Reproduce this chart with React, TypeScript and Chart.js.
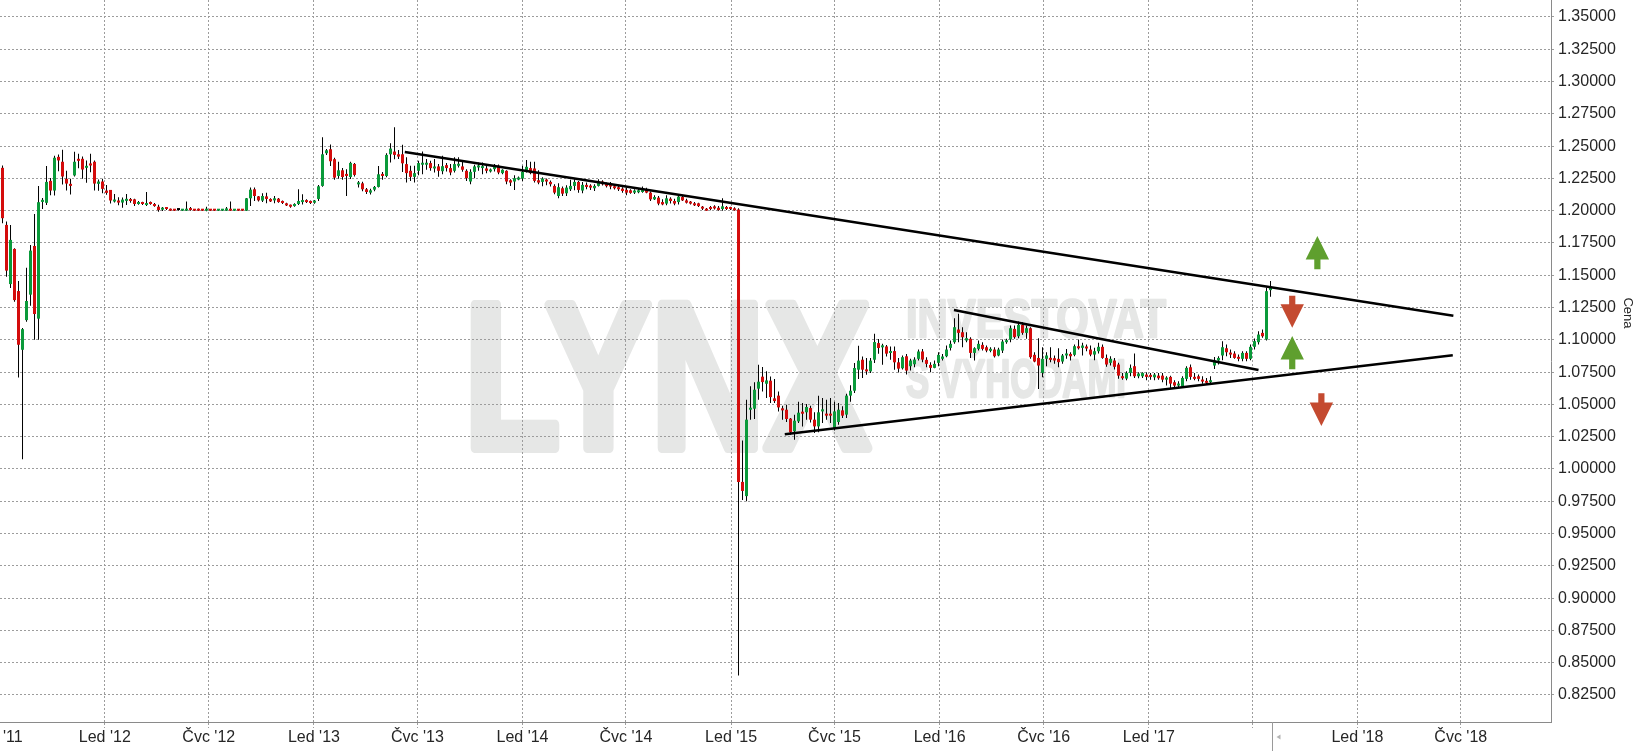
import React, { useEffect, useRef } from 'react';
import { Chart, registerables } from 'chart.js';

Chart.register(...registerables);

// ---------- DATA ----------
// weekly candles, first week starting Monday 2011-06-27
const FIRST_WEEK = '2011-06-27';

const opens = [
  1.181, 1.2332, 1.189, 1.1432, 1.1704, 1.1378, 1.0923, 1.1153, 1.135, 1.1727,
  1.1164, 1.2068, 1.2061, 1.2231, 1.2156, 1.2417, 1.2379, 1.2247, 1.2208, 1.2273,
  1.2402, 1.2402, 1.2332, 1.2366, 1.2379, 1.2208, 1.2226, 1.2156, 1.2161, 1.2071,
  1.2079, 1.2063, 1.2076, 1.2088, 1.2088, 1.2052, 1.2065, 1.2044, 1.2065, 1.2052,
  1.2031, 1.2008, 1.2023, 1.2013, 1.201, 1.2005, 1.2, 1.2, 1.2018, 1.201,
  1.2013, 1.201, 1.2, 1.201, 1.201, 1.2, 1.2, 1.2, 1.201, 1.2,
  1.201, 1.201, 1.2, 1.2096, 1.2166, 1.2111, 1.2078, 1.2111, 1.2091, 1.208,
  1.2093, 1.2075, 1.2057, 1.2044, 1.2036, 1.2052, 1.2067, 1.208, 1.2075, 1.2062,
  1.2091, 1.2192, 1.2445, 1.2476, 1.2399, 1.2269, 1.2313, 1.2285, 1.2261, 1.2362,
  1.2204, 1.2212, 1.2166, 1.214, 1.2163, 1.2184, 1.2285, 1.2269, 1.2437, 1.2458,
  1.2437, 1.2437, 1.2361, 1.2309, 1.2262, 1.2309, 1.2356, 1.2356, 1.2369, 1.2327,
  1.2343, 1.2306, 1.2353, 1.233, 1.2309, 1.2348, 1.2343, 1.2309, 1.2226, 1.2301,
  1.2335, 1.233, 1.2327, 1.2304, 1.2322, 1.2348, 1.2291, 1.2309, 1.2236, 1.2226,
  1.2241, 1.2249, 1.2301, 1.233, 1.2327, 1.2236, 1.2223, 1.2239, 1.2223, 1.2192,
  1.2114, 1.2174, 1.2135, 1.2166, 1.2192, 1.2223, 1.2156, 1.22, 1.2192, 1.2174,
  1.2192, 1.2226, 1.2208, 1.2205, 1.2187, 1.2182, 1.2171, 1.2161, 1.2158, 1.214,
  1.2143, 1.2145, 1.2161, 1.214, 1.2088, 1.2101, 1.2067, 1.2055, 1.2093, 1.2075,
  1.2067, 1.2106, 1.208, 1.207, 1.2057, 1.2057, 1.2031, 1.2013, 1.2026, 1.2031,
  1.2023, 1.2013, 1.2029, 1.2026, 1.2018, 1.201, 0.99, 0.979, 1.0459, 1.0467,
  1.0622, 1.0715, 1.066, 1.0684, 1.0547, 1.0568, 1.047, 1.0459, 1.039, 1.0292,
  1.0369, 1.0444, 1.0439, 1.0472, 1.0382, 1.033, 1.0446, 1.0428, 1.0428, 1.0317,
  1.0364, 1.0454, 1.0421, 1.0568, 1.0606, 1.0769, 1.0846, 1.0769, 1.0756, 1.0846,
  1.0975, 1.0942, 1.0949, 1.0898, 1.0913, 1.0826, 1.078, 1.0873, 1.0796, 1.0811,
  1.0853, 1.091, 1.0845, 1.0806, 1.0783, 1.0822, 1.0853, 1.0873, 1.0938, 1.0982,
  1.108, 1.1059, 1.0995, 1.1008, 1.0899, 1.093, 1.0961, 1.0943, 1.0915, 1.0925,
  1.0879, 1.0917, 1.0982, 1.1003, 1.1085, 1.1028, 1.1116, 1.1054, 1.109, 1.0884,
  1.086, 1.0744, 1.0853, 1.0858, 1.0858, 1.0853, 1.0832, 1.0879, 1.0891, 1.0884,
  1.0948, 1.0938, 1.0946, 1.0925, 1.0886, 1.0912, 1.0946, 1.086, 1.0822, 1.084,
  1.0809, 1.0718, 1.07, 1.0744, 1.0796, 1.0718, 1.0718, 1.0731, 1.0729, 1.071,
  1.0723, 1.0723, 1.0692, 1.0713, 1.0672, 1.0646, 1.0641, 1.0698, 1.0788, 1.0713,
  1.0718, 1.0692, 1.0679, 1.0672, 1.0801, 1.084, 1.0879, 1.0935, 1.0899, 1.0894,
  1.0868, 1.0853, 1.0899, 1.0853, 1.0946, 1.0982, 1.1054, 1.1003, 1.1385,
];

const highs = [
  1.235, 1.235, 1.1916, 1.189, 1.1709, 1.1456, 1.1091, 1.1559, 1.1735, 1.1975,
  1.2192, 1.2099, 1.2347, 1.2254, 1.2425, 1.2435, 1.2472, 1.2309, 1.2247, 1.2456,
  1.2441, 1.242, 1.2389, 1.2441, 1.2389, 1.2241, 1.2247, 1.22, 1.2161, 1.213,
  1.2104, 1.2102, 1.213, 1.2098, 1.2093, 1.2075, 1.207, 1.2145, 1.2072, 1.206,
  1.2047, 1.2028, 1.2028, 1.2018, 1.2013, 1.201, 1.2013, 1.2072, 1.2028, 1.2013,
  1.2018, 1.2013, 1.2031, 1.2013, 1.2013, 1.2013, 1.2013, 1.2028, 1.2072, 1.2013,
  1.2013, 1.2013, 1.2099, 1.2179, 1.2179, 1.2114, 1.2135, 1.214, 1.2096, 1.2114,
  1.2099, 1.208, 1.2062, 1.2049, 1.2057, 1.2166, 1.2127, 1.2088, 1.208, 1.2083,
  1.2199, 1.2569, 1.2478, 1.2512, 1.241, 1.238, 1.233, 1.2321, 1.238, 1.237,
  1.223, 1.2225, 1.2175, 1.217, 1.2192, 1.2347, 1.23, 1.2445, 1.2523, 1.2647,
  1.247, 1.251, 1.2413, 1.2348, 1.2348, 1.2387, 1.2459, 1.24, 1.2387, 1.24,
  1.2361, 1.2426, 1.2369, 1.2361, 1.2413, 1.2413, 1.2382, 1.2322, 1.2322, 1.2356,
  1.2374, 1.2374, 1.2348, 1.2327, 1.2361, 1.2358, 1.2322, 1.2314, 1.2244, 1.2275,
  1.2265, 1.2348, 1.2392, 1.2379, 1.2379, 1.2314, 1.226, 1.2249, 1.2234, 1.2205,
  1.2213, 1.2187, 1.2197, 1.2239, 1.2244, 1.2231, 1.2223, 1.2218, 1.2205, 1.2205,
  1.2244, 1.2236, 1.2218, 1.2223, 1.22, 1.2192, 1.2182, 1.2177, 1.2166, 1.2166,
  1.2171, 1.2187, 1.2177, 1.2148, 1.2119, 1.2114, 1.2088, 1.2119, 1.2104, 1.2093,
  1.2127, 1.2122, 1.2093, 1.2075, 1.2067, 1.2062, 1.2036, 1.2021, 1.2036, 1.2042,
  1.2036, 1.2096, 1.2036, 1.2031, 1.2026, 1.202, 1.022, 1.0537, 1.064, 1.0671,
  1.0808, 1.0789, 1.0756, 1.0717, 1.0697, 1.0601, 1.049, 1.0498, 1.0395, 1.0421,
  1.0521, 1.0511, 1.0503, 1.049, 1.0439, 1.0568, 1.055, 1.0537, 1.055, 1.0521,
  1.0511, 1.0485, 1.0583, 1.0648, 1.082, 1.0955, 1.0872, 1.0859, 1.0859, 1.1047,
  1.1006, 1.097, 1.096, 1.0949, 1.0949, 1.0859, 1.0879, 1.0891, 1.0853, 1.0866,
  1.0925, 1.093, 1.0866, 1.0827, 1.084, 1.0904, 1.0891, 1.0956, 1.0995, 1.1168,
  1.1202, 1.1098, 1.1059, 1.1021, 1.0943, 1.0995, 1.0982, 1.0956, 1.0943, 1.0943,
  1.0938, 1.1003, 1.1008, 1.1111, 1.1111, 1.1142, 1.1137, 1.1111, 1.1098, 1.0904,
  1.1013, 1.0943, 1.0904, 1.0943, 1.0879, 1.0935, 1.0891, 1.093, 1.0904, 1.0964,
  1.1003, 1.0977, 1.0964, 1.0956, 1.0938, 1.0977, 1.0964, 1.0886, 1.0873, 1.086,
  1.0822, 1.0744, 1.0757, 1.0809, 1.0894, 1.0749, 1.0749, 1.0749, 1.0744, 1.0744,
  1.0744, 1.0744, 1.0718, 1.0723, 1.0687, 1.0679, 1.0718, 1.0796, 1.0809, 1.0744,
  1.0731, 1.0718, 1.0705, 1.0718, 1.0868, 1.0873, 1.099, 1.0964, 1.0925, 1.0912,
  1.0886, 1.0912, 1.0912, 1.0964, 1.101, 1.1067, 1.108, 1.1403, 1.1455,
];

const lows = [
  1.178, 1.1903, 1.1489, 1.1401, 1.1295, 1.0709, 1.0075, 1.114, 1.1264, 1.1001,
  1.1001, 1.2014, 1.2045, 1.212, 1.2117, 1.2306, 1.2203, 1.2156, 1.2125, 1.2265,
  1.2329, 1.2247, 1.2216, 1.2298, 1.2156, 1.2154, 1.2136, 1.2123, 1.2055, 1.2063,
  1.2042, 1.2022, 1.2045, 1.2062, 1.2036, 1.2047, 1.2044, 1.2036, 1.2047, 1.2031,
  1.1992, 1.1998, 1.2005, 1.1998, 1.1998, 1.2, 1.1998, 1.1998, 1.2, 1.1998,
  1.1998, 1.1998, 1.1995, 1.1998, 1.1998, 1.1998, 1.1998, 1.1998, 1.1998, 1.1998,
  1.1998, 1.1998, 1.1998, 1.2036, 1.2075, 1.2072, 1.2067, 1.2057, 1.2067, 1.2057,
  1.2062, 1.2052, 1.2036, 1.2023, 1.2031, 1.2044, 1.2049, 1.206, 1.2052, 1.2054,
  1.2075, 1.2186, 1.2432, 1.2347, 1.224, 1.2248, 1.224, 1.2114, 1.2245, 1.2264,
  1.218, 1.215, 1.213, 1.2125, 1.215, 1.2179, 1.224, 1.226, 1.2373, 1.2398,
  1.24, 1.23, 1.2218, 1.2231, 1.2218, 1.2275, 1.2283, 1.2317, 1.2309, 1.2296,
  1.2262, 1.2283, 1.2304, 1.2275, 1.2296, 1.2335, 1.2301, 1.2231, 1.2205, 1.2252,
  1.2309, 1.2283, 1.2291, 1.2296, 1.2304, 1.2283, 1.2283, 1.2205, 1.2192, 1.2161,
  1.2236, 1.2231, 1.2296, 1.2283, 1.2218, 1.2205, 1.219, 1.2197, 1.2187, 1.2127,
  1.2096, 1.2114, 1.2114, 1.2153, 1.2158, 1.214, 1.2135, 1.2166, 1.2161, 1.2153,
  1.2187, 1.2195, 1.2179, 1.2166, 1.2164, 1.2153, 1.214, 1.2119, 1.2132, 1.213,
  1.2135, 1.214, 1.2135, 1.2075, 1.2083, 1.2042, 1.2042, 1.2042, 1.2055, 1.2042,
  1.2049, 1.2075, 1.2055, 1.2049, 1.2036, 1.2029, 1.2005, 1.2, 1.2003, 1.201,
  1.2, 1.2, 1.2005, 1.2005, 1.2, 0.84, 0.976, 0.975, 1.0382, 1.0387,
  1.0537, 1.0601, 1.055, 1.0511, 1.0511, 1.0446, 1.0382, 1.0364, 1.0266, 1.0227,
  1.0356, 1.033, 1.0382, 1.0361, 1.0279, 1.0284, 1.0356, 1.0382, 1.0356, 1.0299,
  1.0343, 1.0395, 1.0395, 1.0521, 1.0588, 1.0697, 1.0704, 1.073, 1.0743, 1.082,
  1.0893, 1.0808, 1.0872, 1.0846, 1.0769, 1.0748, 1.077, 1.0731, 1.0762, 1.0788,
  1.084, 1.0827, 1.0788, 1.0749, 1.078, 1.0796, 1.084, 1.0866, 1.0917, 1.0969,
  1.0982, 1.0943, 1.0982, 1.086, 1.084, 1.0917, 1.0917, 1.0904, 1.0904, 1.0863,
  1.0873, 1.0899, 1.0969, 1.0982, 1.1008, 1.1013, 1.1039, 1.1008, 1.0853, 1.0827,
  1.062, 1.071, 1.0796, 1.0827, 1.0814, 1.0788, 1.0814, 1.0853, 1.084, 1.0873,
  1.0925, 1.0879, 1.0912, 1.0873, 1.0842, 1.0894, 1.0853, 1.0791, 1.0801, 1.077,
  1.0698, 1.0692, 1.0687, 1.0718, 1.0705, 1.0703, 1.0705, 1.0687, 1.0692, 1.0687,
  1.0692, 1.0672, 1.0646, 1.0628, 1.062, 1.0628, 1.0628, 1.0679, 1.0692, 1.0687,
  1.0679, 1.0661, 1.0654, 1.0654, 1.0775, 1.0809, 1.0842, 1.0873, 1.086, 1.0853,
  1.0835, 1.0835, 1.0835, 1.0842, 1.0925, 1.0964, 1.1016, 1.0995, 1.1333,
];

const closes = [
  1.232, 1.1942, 1.1536, 1.1774, 1.1308, 1.0962, 1.1083, 1.1301, 1.1691, 1.12,
  1.2066, 1.2084, 1.2223, 1.2156, 1.241, 1.2389, 1.2265, 1.221, 1.2192, 1.2379,
  1.2386, 1.2319, 1.2347, 1.235, 1.221, 1.2226, 1.2169, 1.2138, 1.2079, 1.2086,
  1.2063, 1.2086, 1.2092, 1.2075, 1.2052, 1.2065, 1.2052, 1.2057, 1.2052, 1.2036,
  1.2005, 1.2021, 1.2013, 1.2, 1.2, 1.2005, 1.201, 1.201, 1.2005, 1.2,
  1.2, 1.2, 1.201, 1.2, 1.2, 1.201, 1.201, 1.2018, 1.2, 1.201,
  1.2, 1.2, 1.2096, 1.2163, 1.2114, 1.208, 1.2114, 1.2091, 1.2072, 1.2096,
  1.2067, 1.206, 1.2041, 1.2031, 1.2052, 1.2075, 1.208, 1.2067, 1.206, 1.2078,
  1.2189, 1.2437, 1.2468, 1.2383, 1.2256, 1.2313, 1.2261, 1.2269, 1.237, 1.2277,
  1.2215, 1.2166, 1.2145, 1.2158, 1.2184, 1.2282, 1.2269, 1.2432, 1.2481, 1.2432,
  1.2419, 1.2367, 1.2291, 1.2262, 1.2291, 1.2369, 1.2369, 1.2369, 1.233, 1.234,
  1.2309, 1.2345, 1.233, 1.2296, 1.2361, 1.2361, 1.2317, 1.2252, 1.2301, 1.2343,
  1.2348, 1.234, 1.2309, 1.2317, 1.2348, 1.2296, 1.2317, 1.2226, 1.2218, 1.2252,
  1.2257, 1.2301, 1.234, 1.2291, 1.2231, 1.2218, 1.2249, 1.2226, 1.2205, 1.214,
  1.2182, 1.2132, 1.2179, 1.2192, 1.2223, 1.2161, 1.22, 1.2184, 1.2179, 1.2192,
  1.2226, 1.2205, 1.219, 1.2187, 1.2174, 1.2166, 1.2153, 1.214, 1.2138, 1.2156,
  1.2158, 1.2161, 1.214, 1.2088, 1.2106, 1.2055, 1.2049, 1.2096, 1.2075, 1.2055,
  1.2109, 1.208, 1.2062, 1.2055, 1.2042, 1.2036, 1.2016, 1.2, 1.2013, 1.2018,
  1.2005, 1.2034, 1.2013, 1.2013, 1.2003, 0.99, 0.983, 1.0382, 1.0472, 1.0614,
  1.0676, 1.0673, 1.0686, 1.0557, 1.0526, 1.0477, 1.0454, 1.0387, 1.0284, 1.0374,
  1.0436, 1.0428, 1.048, 1.0382, 1.033, 1.0439, 1.0462, 1.0413, 1.0413, 1.0446,
  1.0459, 1.0413, 1.0568, 1.0606, 1.0782, 1.0839, 1.0769, 1.0756, 1.0839, 1.0983,
  1.0937, 1.0957, 1.0893, 1.0913, 1.0826, 1.0777, 1.0866, 1.0762, 1.084, 1.0847,
  1.091, 1.0847, 1.0814, 1.0783, 1.0814, 1.0884, 1.0871, 1.0925, 1.0969, 1.1098,
  1.1054, 1.1021, 1.1013, 1.0899, 1.0935, 1.0969, 1.093, 1.0917, 1.093, 1.0873,
  1.0925, 1.0987, 1.0995, 1.109, 1.1021, 1.1116, 1.1054, 1.109, 1.0866, 1.0832,
  1.0801, 1.0853, 1.0879, 1.0845, 1.084, 1.0827, 1.0879, 1.0891, 1.0873, 1.0951,
  1.0935, 1.0956, 1.0933, 1.0886, 1.0912, 1.0946, 1.086, 1.0809, 1.0853, 1.0791,
  1.0723, 1.0703, 1.0744, 1.0783, 1.0718, 1.0739, 1.0744, 1.0713, 1.0713, 1.0731,
  1.0703, 1.0692, 1.0705, 1.0661, 1.0646, 1.0661, 1.0705, 1.0783, 1.0713, 1.0698,
  1.0698, 1.0677, 1.0667, 1.0687, 1.084, 1.086, 1.0943, 1.0904, 1.0886, 1.086,
  1.0853, 1.0899, 1.0853, 1.0946, 1.099, 1.1041, 1.1028, 1.1377, 1.1403,
];

const xTickDates = [
  '2011-06-26', '2012-01-01', '2012-07-01', '2013-01-01', '2013-07-01', '2014-01-01', '2014-07-01',
  '2015-01-01', '2015-07-01', '2016-01-01', '2016-07-01', '2017-01-01', '2017-07-01', '2018-01-01', '2018-07-01',
];
const xTickLabels = [
  "Čvc '11", "Led '12", "Čvc '12", "Led '13", "Čvc '13", "Led '14", "Čvc '14",
  "Led '15", "Čvc '15", "Led '16", "Čvc '16", "Led '17", '', "Led '18", "Čvc '18",
];
const yTicks = [
  0.825, 0.85, 0.875, 0.9, 0.925, 0.95, 0.975, 1.0, 1.025, 1.05, 1.075, 1.1,
  1.125, 1.15, 1.175, 1.2, 1.225, 1.25, 1.275, 1.3, 1.325, 1.35,
];

// trend lines: start date, start value, end date, end value
const trendStartDates = ['2013-06-09', '2015-04-05', '2016-01-26'];
const trendStartValues = [1.2455, 1.0269, 1.1231];
const trendEndDates = ['2018-06-18', '2018-06-17', '2017-07-12'];
const trendEndValues = [1.1187, 1.0881, 1.0767];

// scenario arrows: date, base value, tip value
const arrowDates = ['2017-10-23', '2017-09-09', '2017-09-09', '2017-10-30'];
const arrowBaseValues = [1.1547, 1.1342, 1.0772, 1.0586];
const arrowTipValues = [1.1804, 1.1094, 1.103, 1.0333];

const LAST_DATA_DATE = '2017-08-04';
const AXIS_TITLE = 'Cena';

// ---------- HELPERS / STYLE ----------
const FONT = '"Liberation Sans", Arial, Helvetica, sans-serif';
const GREEN = '#0a9a3a';
const RED = '#d40c0c';
const GRID = '#9c9c9c';
const AXIS = '#8a8a8a';
const TEXT = '#262626';
const WATERMARK = '#e6e7e6';

const dayOf = (iso: string) => {
  const [y, m, d] = iso.split('-').map(Number);
  return (Date.UTC(y, m - 1, d) - Date.UTC(2012, 0, 1)) / 86400000;
};

const X_MIN = -183.4;
const X_MAX = X_MIN + 1551 * 7 / 4;
const Y_MIN = 0.80409;
const Y_MAX = 1.36316;

export default function App() {
  const ref = useRef<HTMLCanvasElement | null>(null);

  useEffect(() => {
    document.body.style.margin = '0';
    const canvas = ref.current;
    if (!canvas) return;

    const first = dayOf(FIRST_WEEK) + 2;
    const xs = opens.map((_, i) => first + 7 * i);
    const bodies = opens.map((o, i) => ({ x: xs[i], y: [o, closes[i]] }));
    const wicks = opens.map((_, i) => ({ x: xs[i], y: [lows[i], highs[i]] }));
    const colors = opens.map((o, i) => (closes[i] > o ? GREEN : closes[i] < o ? RED : '#000'));

    const trendSets = trendStartDates.map((d, i) => ({
      type: 'line' as const,
      data: [
        { x: dayOf(d), y: trendStartValues[i] },
        { x: dayOf(trendEndDates[i]), y: trendEndValues[i] },
      ],
      borderColor: '#000',
      borderWidth: 2.6,
      pointRadius: 0,
      fill: false,
      order: 0,
    }));

    const drawHeavy = (ctx: CanvasRenderingContext2D, text: string, x: number, y: number, w: number, stroke: number) => {
      ctx.lineWidth = stroke;
      ctx.lineJoin = 'round';
      ctx.strokeText(text, x, y, w);
      ctx.fillText(text, x, y, w);
    };

    const watermark = {
      id: 'watermark',
      beforeDraw(chart: any) {
        const ctx = chart.ctx;
        ctx.save();
        ctx.fillStyle = WATERMARK;
        ctx.strokeStyle = WATERMARK;
        ctx.textBaseline = 'alphabetic';
        ctx.textAlign = 'left';
        ctx.font = `bold 208px ${FONT}`;
        drawHeavy(ctx, 'LYNX', 464, 448, 406, 10);
        ctx.font = `bold 54px ${FONT}`;
        drawHeavy(ctx, 'INVESTOVAT', 906, 337, 260, 2.5);
        drawHeavy(ctx, 'S VÝHODAMI', 906, 397, 220, 2.5);
        ctx.restore();
      },
    };

    const arrows = {
      id: 'arrows',
      afterDatasetsDraw(chart: any) {
        const ctx = chart.ctx;
        const sx = chart.scales.x;
        const sy = chart.scales.y;
        ctx.save();
        arrowDates.forEach((d, i) => {
          const x = sx.getPixelForValue(dayOf(d));
          const yb = sy.getPixelForValue(arrowBaseValues[i]);
          const yt = sy.getPixelForValue(arrowTipValues[i]);
          const dir = yb > yt ? 1 : -1;
          const up = dir === 1;
          const headLen = 23.5;
          const headHalf = 11.7;
          const shaftHalf = 3.1;
          const yh = yt + dir * headLen;
          ctx.beginPath();
          ctx.moveTo(x, yt);
          ctx.lineTo(x + headHalf, yh);
          ctx.lineTo(x + shaftHalf, yh);
          ctx.lineTo(x + shaftHalf, yb);
          ctx.lineTo(x - shaftHalf, yb);
          ctx.lineTo(x - shaftHalf, yh);
          ctx.lineTo(x - headHalf, yh);
          ctx.closePath();
          ctx.fillStyle = up ? '#5f9f2e' : '#c44a30';
          ctx.fill();
        });
        ctx.restore();
      },
    };

    const extras = {
      id: 'extras',
      afterDraw(chart: any) {
        const ctx = chart.ctx;
        const sx = chart.scales.x;
        const area = chart.chartArea;
        ctx.save();
        const nx = Math.round(sx.getPixelForValue(dayOf(LAST_DATA_DATE))) + 0.5;
        ctx.strokeStyle = '#9a9a9a';
        ctx.lineWidth = 1;
        ctx.beginPath();
        ctx.moveTo(nx, area.bottom);
        ctx.lineTo(nx, chart.height);
        ctx.stroke();
        ctx.fillStyle = '#b4b4b4';
        ctx.beginPath();
        ctx.moveTo(nx + 4, 737);
        ctx.lineTo(nx + 8, 734.5);
        ctx.lineTo(nx + 8, 739.5);
        ctx.closePath();
        ctx.fill();
        ctx.translate(1628, 313);
        ctx.rotate(Math.PI / 2);
        ctx.fillStyle = TEXT;
        ctx.font = `13px ${FONT}`;
        ctx.textAlign = 'center';
        ctx.textBaseline = 'middle';
        ctx.fillText(AXIS_TITLE, 0, 0);
        ctx.restore();
      },
    };

    const chart = new Chart(canvas, {
      type: 'bar',
      data: {
        datasets: [
          ...trendSets,
          {
            type: 'bar',
            data: bodies as any,
            backgroundColor: colors,
            barThickness: 3,
            minBarLength: 2,
            grouped: false,
            borderWidth: 0,
            inflateAmount: 0,
            order: 1,
          } as any,
          {
            type: 'bar',
            data: wicks as any,
            backgroundColor: '#000',
            barThickness: 1,
            grouped: false,
            borderWidth: 0,
            inflateAmount: 0,
            order: 2,
          } as any,
        ],
      },
      options: {
        responsive: false,
        maintainAspectRatio: false,
        animation: false,
        devicePixelRatio: 1,
        layout: { padding: 0 },
        plugins: { legend: { display: false }, tooltip: { enabled: false } },
        scales: {
          x: {
            type: 'linear',
            position: 'bottom',
            min: X_MIN,
            max: X_MAX,
            offset: false,
            afterBuildTicks: (s: any) => {
              s.ticks = xTickDates.map((d) => ({ value: dayOf(d) }));
            },
            afterFit: (s: any) => {
              s.height = 29;
              s.paddingLeft = 0;
              s.paddingRight = 0;
            },
            ticks: {
              autoSkip: false,
              maxRotation: 0,
              minRotation: 0,
              padding: 0,
              color: TEXT,
              font: { size: 16, family: FONT },
              callback: (_v: any, i: number) => xTickLabels[i],
            },
            grid: {
              color: GRID,
              lineWidth: 1,
              offset: false,
              tickLength: 6,
              tickColor: GRID,
              tickBorderDash: [2, 2],
            },
            border: { display: true, color: AXIS, width: 1, dash: [2, 2] },
          },
          y: {
            type: 'linear',
            position: 'right',
            min: Y_MIN,
            max: Y_MAX,
            beginAtZero: false,
            afterBuildTicks: (s: any) => {
              s.ticks = yTicks.map((v) => ({ value: v }));
            },
            afterFit: (s: any) => {
              s.width = 89;
              s.paddingTop = 0;
              s.paddingBottom = 0;
            },
            ticks: {
              padding: 3,
              crossAlign: 'near',
              color: TEXT,
              font: { size: 16, family: FONT },
              callback: (v: any) => Number(v).toFixed(5),
            },
            grid: {
              color: GRID,
              lineWidth: 1,
              tickLength: 4,
              tickColor: GRID,
              tickBorderDash: [2, 2],
            },
            border: { display: true, color: AXIS, width: 1, dash: [2, 2] },
          },
        },
      } as any,
      plugins: [watermark, arrows, extras],
    });

    return () => chart.destroy();
  }, []);

  return (
    <div style={{ position: 'fixed', left: 0, top: 0, width: 1640, height: 751, background: '#fff' }}>
      <canvas ref={ref} width={1640} height={751} style={{ width: 1640, height: 751, display: 'block' }} />
    </div>
  );
}
